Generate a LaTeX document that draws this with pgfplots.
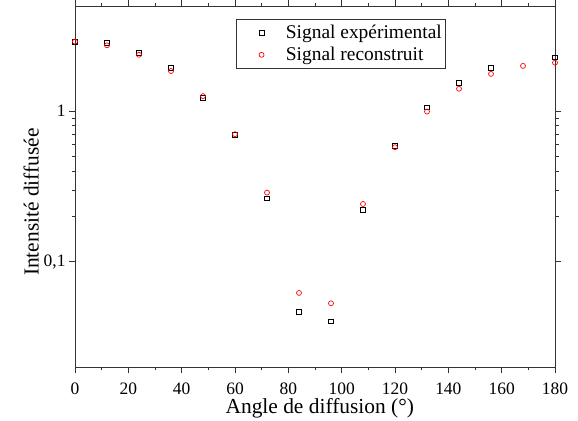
\documentclass[border=0pt]{standalone}
\usepackage{fontspec}
\setmainfont{Liberation Serif}
\usepackage{pgfplots}
\pgfplotsset{compat=1.18}

\pgfplotstableread{
x y
0 2.90
12 2.84
24 2.44
36 1.95
48 1.23
60 0.694
72 0.264
84 0.0467
96 0.0403
108 0.221
120 0.59
132 1.063
144 1.54
156 1.95
180 2.28
}\experimental

\pgfplotstableread{
x y
0 2.90
12 2.74
24 2.37
36 1.85
48 1.26
60 0.704
72 0.288
84 0.0621
96 0.0530
108 0.242
120 0.577
132 0.995
144 1.41
156 1.77
168 2.00
180 2.10
}\reconstruit

\begin{document}
\begin{tikzpicture}
\begin{semilogyaxis}[
    scale only axis,
    width=480bp, height=361bp,
    xmin=0, xmax=180, ymin=0.02, ymax=5,
    xtick={0,20,...,180},
    minor x tick num=1,
    ytick={0.1,1},
    yticklabels={{0,1},1},
    tick align=outside,
    major tick length=6bp,
    minor tick length=3.5bp,
    axis line style={line width=1pt, black!80},
    every tick/.style={black!80, line width=0.8pt},
    tick label style={font=\fontsize{17.5}{20}\selectfont},
    /pgf/number format/assume math mode=true,
    xticklabel style={inner sep=0pt, yshift=-9.5bp},
    xlabel={Angle de diffusion (°)},
    ylabel={Intensité diffusée},
    label style={font=\fontsize{21.5}{24}\selectfont},
    xlabel style={at={(ticklabel cs:0.51)}, inner sep=0pt, yshift=-4bp},
    ylabel style={at={(ticklabel cs:0.457)}, yshift=-2bp},
    legend style={at={(rel axis cs:0.335,0.964)}, anchor=north west,
        font=\fontsize{19.5}{22}\selectfont, draw=black!80, line width=0.8pt,
        inner xsep=2bp, inner ysep=4bp, row sep=3bp, column sep=17bp},
    legend image code/.code={%
        \path (0bp,0bp) (28bp,0bp);
        \draw[#1, only marks] plot coordinates {(23bp,0bp)};},
    legend cell align=left,
    clip=false,
]
\addplot[only marks, mark=square, mark size=2.3bp, black, line width=0.7pt] table {\experimental};
\addlegendentry{Signal expérimental}
\addplot[only marks, mark=o, mark size=2.5bp, red, line width=0.7pt] table {\reconstruit};
\addlegendentry{Signal reconstruit}
\coordinate (ll) at (rel axis cs:0,0);
\coordinate (ur) at (rel axis cs:1,1);
\end{semilogyaxis}
\pgfresetboundingbox
\path[use as bounding box] ([shift={(-75bp,-54bp)}]ll) rectangle ([shift={(23bp,6bp)}]ur);
\end{tikzpicture}
\end{document}
